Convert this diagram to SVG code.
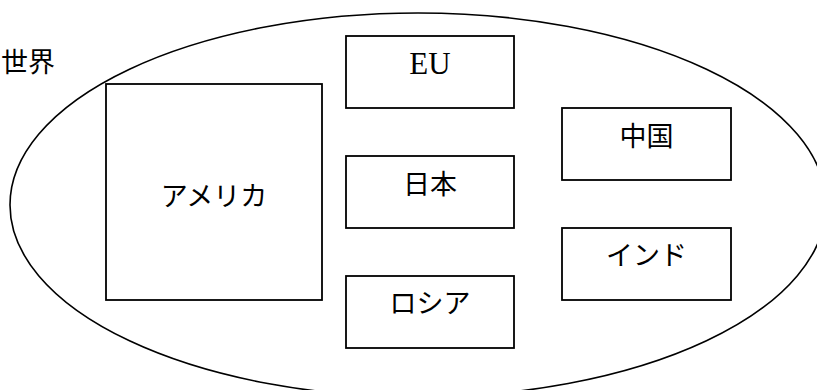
<svg xmlns="http://www.w3.org/2000/svg" width="817" height="390" viewBox="0 0 817 390">
<style>
  .box { fill: #fff; stroke: #000; stroke-width: 1.8; }
  .world { fill: none; stroke: #000; stroke-width: 1.6; }
  .jp { font-family: "Noto Sans CJK JP", "Noto Sans", sans-serif; font-size: 27px; fill: #000; text-anchor: middle; }
  .en { font-family: "Liberation Serif", "Times New Roman", serif; font-size: 31px; fill: #000; text-anchor: middle; }
</style>
<rect x="0" y="0" width="817" height="390" fill="#fff"/>
<g id="world">
  <ellipse class="world" cx="418" cy="205" rx="408" ry="192"/>
  <text class="jp" x="1" y="72" style="text-anchor:start">世界</text>
</g>
<g id="connectors"></g>
<g id="america">
  <rect class="box" x="106" y="84" width="216" height="216"/>
  <text class="jp" x="214" y="206">アメリカ</text>
</g>
<g id="eu">
  <rect class="box" x="346" y="36" width="168" height="72"/>
  <text class="en" x="430" y="74">EU</text>
</g>
<g id="japan">
  <rect class="box" x="346" y="156" width="168" height="72"/>
  <text class="jp" x="430" y="194">日本</text>
</g>
<g id="russia">
  <rect class="box" x="346" y="276" width="168" height="72"/>
  <text class="jp" x="430" y="313">ロシア</text>
</g>
<g id="china">
  <rect class="box" x="562" y="108" width="169" height="72"/>
  <text class="jp" x="646.5" y="146">中国</text>
</g>
<g id="india">
  <rect class="box" x="562" y="228" width="169" height="72"/>
  <text class="jp" x="646.5" y="265">インド</text>
</g>
</svg>
